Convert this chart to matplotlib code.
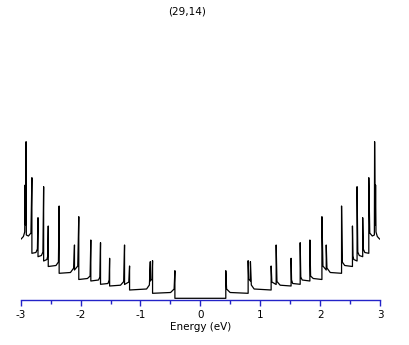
import matplotlib
matplotlib.use("Agg")
import matplotlib.pyplot as plt
import numpy as np

# Density of states of a (29,14) nanotube.
# Left half (E < 0) as polyline vertices; the right half is its mirror image.
energy_left = [
    -2.993, -2.955, -2.933, -2.926, -2.920, -2.910, -2.906, -2.871, -2.829,
    -2.813, -2.813, -2.746, -2.721, -2.711, -2.711, -2.654, -2.629, -2.617,
    -2.617, -2.562, -2.548, -2.540, -2.540, -2.411, -2.370, -2.358, -2.358,
    -2.169, -2.114, -2.102, -2.102, -2.047, -2.030, -2.030, -1.885, -1.841,
    -1.829, -1.829, -1.701, -1.677, -1.667, -1.667, -1.542, -1.523, -1.515,
    -1.515, -1.333, -1.279, -1.266, -1.266, -1.194, -1.182, -1.182, -0.898,
    -0.851, -0.836, -0.836, -0.808, -0.798, -0.798, -0.497, -0.438, -0.425,
    -0.425,
]
dos_left = [
    5.93, 6.18, 6.63, 11.33, 7.33, 15.66, 6.33, 6.23, 6.53,
    12.06, 4.50, 4.58, 4.93, 8.06, 4.16, 4.28, 4.63, 11.16,
    3.73, 3.88, 4.23, 7.23, 3.18, 3.28, 3.63, 9.23, 2.50,
    2.58, 3.03, 5.33, 2.83, 3.23, 8.16, 1.88, 1.98, 2.23,
    5.83, 1.73, 1.83, 2.13, 5.56, 1.40, 1.48, 1.83, 4.00,
    1.23, 1.31, 1.68, 5.33, 1.38, 1.63, 3.23, 0.83, 0.93,
    1.33, 3.66, 1.73, 1.93, 3.76, 0.50, 0.58, 0.93, 2.76,
    0.00,
]

energy = np.concatenate([energy_left, [-e for e in energy_left[::-1]]])
dos = np.concatenate([dos_left, dos_left[::-1]])

plt.rcParams["axes.unicode_minus"] = False
plt.rcParams["font.family"] = ["DejaVu Sans"]

blue = "#2323c8"
fig = plt.figure(figsize=(4.09, 3.45), dpi=100)
ax = fig.add_axes([20.7 / 409, 45 / 345, 359.3 / 409, 280 / 345])

ax.plot(energy, dos, color="black", linewidth=0.9)

ax.set_xlim(-3, 3)
ax.set_ylim(-0.17, 27.83)
for side in ("left", "right", "top"):
    ax.spines[side].set_visible(False)
ax.spines["bottom"].set_color(blue)
ax.spines["bottom"].set_linewidth(1.0)
ax.set_yticks([])
ax.set_xticks(np.arange(-3, 4, 1))
ax.set_xticks(np.arange(-2.5, 3, 1), minor=True)
ax.tick_params(axis="x", which="major", direction="out", length=4.5, width=1.0,
               color=blue, labelsize=7.5, pad=2.5)
ax.tick_params(axis="x", which="minor", direction="out", length=3.2, width=1.0,
               color=blue)
ax.set_xlabel("Energy (eV)", fontsize=7.5, labelpad=2)

fig.text(187 / 409, 1 - 12 / 345, "(29,14)", ha="center", va="center", fontsize=7.5)

fig.savefig("out.png", dpi=100, facecolor="white")
